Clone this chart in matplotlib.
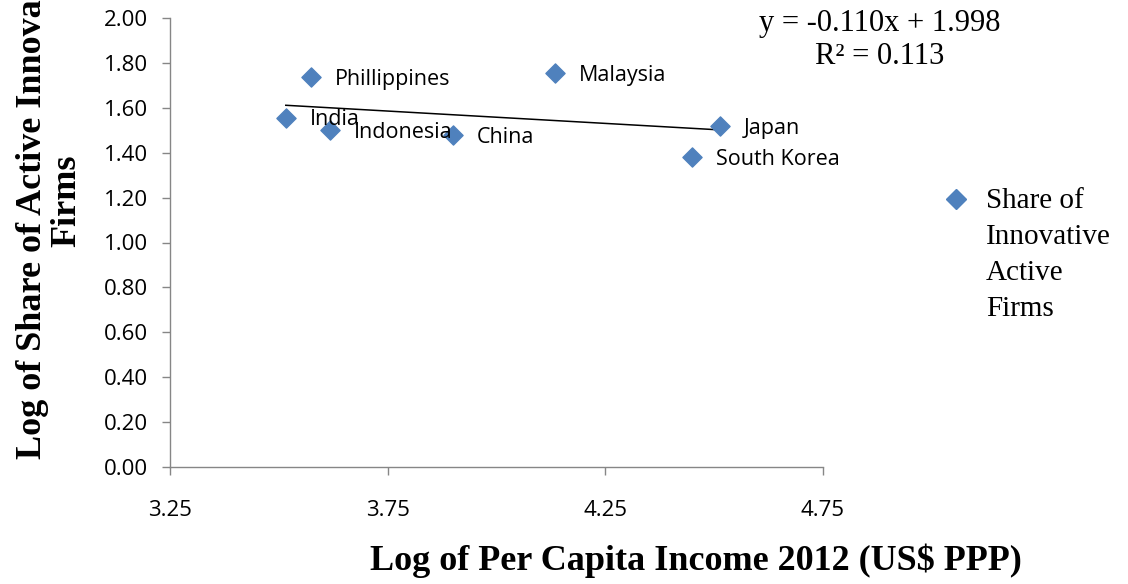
import matplotlib
matplotlib.use("Agg")
import matplotlib.pyplot as plt
from matplotlib.lines import Line2D
import numpy as np

# Country observations: log per-capita income (x) vs log share of innovative active firms (y)
countries = ["India", "Phillippines", "Indonesia", "China", "Malaysia", "South Korea", "Japan"]
log_income = [3.516, 3.574, 3.618, 3.900, 4.134, 4.449, 4.513]
log_share = [1.555, 1.737, 1.501, 1.479, 1.755, 1.381, 1.519]

# Linear trend reported on the chart
slope = -0.110
intercept = 1.998
r_squared = 0.113

x_ticks = [3.25, 3.75, 4.25, 4.75]
y_ticks = [0.0, 0.2, 0.4, 0.6, 0.8, 1.0, 1.2, 1.4, 1.6, 1.8, 2.0]

series_name = "Share of\nInnovative\nActive\nFirms"
marker_color = "#4F81BD"
axis_color = "#868686"
sans = "Open Sans"
serif = "Liberation Serif"

fig = plt.figure(figsize=(11.28, 5.84), dpi=100)
ax = fig.add_axes([170 / 1128, 1 - 467 / 584, (823 - 170) / 1128, (467 - 18) / 584])

ax.scatter(log_income, log_share, marker="D", s=95, color=marker_color,
           edgecolors=marker_color, zorder=3)

# Trend line over the range of the observations
xs = np.array([min(log_income), max(log_income)])
ax.plot(xs, slope * xs + intercept, color="black", linewidth=1.1, zorder=2)

for name, xv, yv in zip(countries, log_income, log_share):
    ax.annotate(name, (xv, yv), xytext=(17, -1.5), textcoords="offset points",
                ha="left", va="center", fontsize=15.5, family=sans, color="black")

ax.set_xlim(3.25, 4.75)
ax.set_ylim(0, 2.0)
ax.set_xticks(x_ticks)
ax.set_xticklabels([f"{v:.2f}" for v in x_ticks])
ax.set_yticks(y_ticks)
ax.set_yticklabels([f"{v:.2f}" for v in y_ticks])

for side in ["top", "right"]:
    ax.spines[side].set_visible(False)
for side in ["left", "bottom"]:
    ax.spines[side].set_color(axis_color)
    ax.spines[side].set_linewidth(1.0)

ax.tick_params(axis="both", direction="out", length=6, width=1.0, color=axis_color,
               labelsize=16, labelcolor="black")
ax.tick_params(axis="x", pad=18)
ax.tick_params(axis="y", pad=10)
for lbl in ax.get_xticklabels() + ax.get_yticklabels():
    lbl.set_family(sans)

# Regression equation
fig.text(880 / 1128, 1 - 40 / 584, f"y = {slope:.3f}x + {intercept:.3f}\nR² = {r_squared:.3f}",
         ha="center", va="center", multialignment="center", fontsize=22,
         family=serif, linespacing=1.15)

# Series key drawn beside the plot area
fig.add_artist(Line2D([956 / 1128], [1 - 199 / 584], marker="D", markersize=10,
                      color=marker_color, linestyle="none", transform=fig.transFigure))
fig.text(986 / 1128, 1 - 188 / 584, series_name, ha="left", va="top",
         fontsize=21, family=serif, linespacing=1.5)

fig.text(696 / 1128, 1 - 561 / 584, "Log of Per Capita Income 2012 (US$ PPP)",
         ha="center", va="center", fontsize=26, fontweight="bold", family=serif)
fig.text(50 / 1128, 1 - 201 / 584, "Log of Share of Active Innovative\nFirms",
         ha="center", va="center", rotation=90, multialignment="center",
         fontsize=26, fontweight="bold", family=serif, linespacing=1.05)

fig.savefig("out.png", dpi=100)
